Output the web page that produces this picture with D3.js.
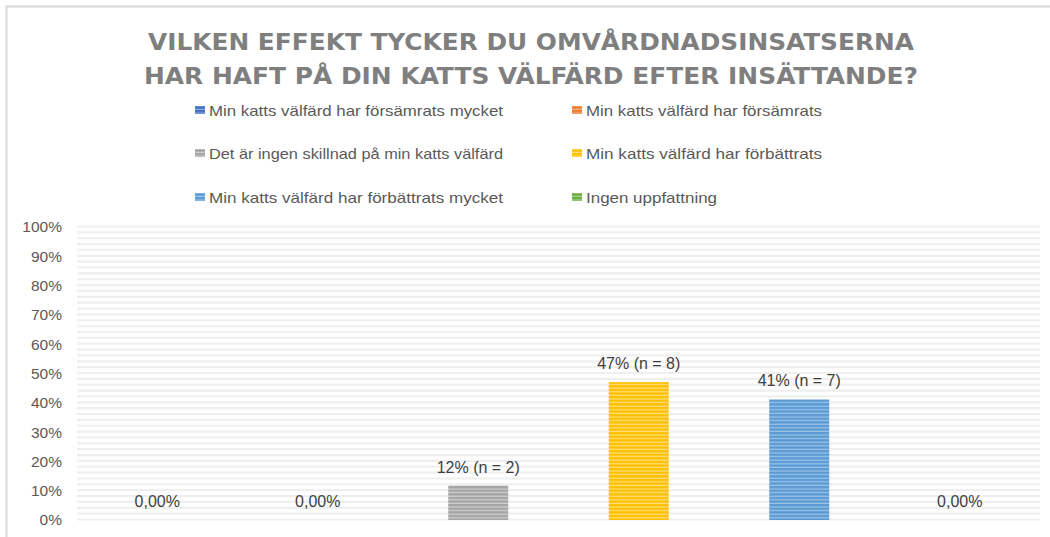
<!DOCTYPE html>
<html><head><meta charset="utf-8">
<script src="https://cdn.jsdelivr.net/npm/d3@7"></script>
<style>
html,body{margin:0;padding:0;background:#fff;}
svg{display:block;}
</style></head>
<body>
<svg id="chart" width="1050" height="537"></svg>
<script>
// ---- data ----
const titleLines = ["VILKEN EFFEKT TYCKER DU OMVÅRDNADSINSATSERNA", "HAR HAFT PÅ DIN KATTS VÄLFÄRD EFTER INSÄTTANDE?"];
const categories = [
  "Min katts välfärd har försämrats mycket",
  "Min katts välfärd har försämrats",
  "Det är ingen skillnad på min katts välfärd",
  "Min katts välfärd har förbättrats",
  "Min katts välfärd har förbättrats mycket",
  "Ingen uppfattning"
];
const values = [0, 0, 11.76, 47.06, 41.18, 0];
const dataLabels = ["0,00%", "0,00%", "12% (n = 2)", "47% (n = 8)", "41% (n = 7)", "0,00%"];
const colors = ["#4472c4", "#ed7d31", "#a5a5a5", "#ffc000", "#5b9bd5", "#70ad47"];
const lightColors = ["#8faadc", "#f4b183", "#d0d0d0", "#ffdf7f", "#9dc3e6", "#a9d18e"];
const yTicks = [0, 10, 20, 30, 40, 50, 60, 70, 80, 90, 100];
const yTickLabels = ["0%", "10%", "20%", "30%", "40%", "50%", "60%", "70%", "80%", "90%", "100%"];
const minorGrid = [0,2,4,6,8,10,12,14,16,18,20,22,24,26,28,30,32,34,36,38,40,42,44,46,48,50,52,54,56,58,60,62,64,66,68,70,72,74,76,78,80,82,84,86,88,90,92,94,96,98,100];

const svg = d3.select("#chart");
const font = "'Liberation Sans', Arial, sans-serif";

// border
svg.append("path").attr("d", "M6.5,537 L6.5,6.5 L1050,6.5")
  .attr("fill", "none").attr("stroke", "#d9d9d9").attr("stroke-width", 2);

// patterns
const defs = svg.append("defs");
colors.forEach((c, i) => {
  const p = defs.append("pattern").attr("id", "pat" + i)
    .attr("patternUnits", "userSpaceOnUse").attr("width", 8).attr("height", 3.6);
  p.append("rect").attr("width", 8).attr("height", 3.6).attr("fill", c);
  p.append("rect").attr("y", 2.4).attr("width", 8).attr("height", 1.2).attr("fill", lightColors[i]);
});

// title
const titleW = [766, 774];
titleLines.forEach((t, i) => {
  svg.append("text").attr("x", 531).attr("y", 50 + i * 34)
    .attr("text-anchor", "middle")
    .attr("font-family", "'DejaVu Sans Condensed', 'DejaVu Sans', sans-serif")
    .attr("font-weight", "bold").attr("font-size", 23)
    .attr("fill", "#7f7f7f")
    .attr("textLength", titleW[i]).attr("lengthAdjust", "spacingAndGlyphs")
    .text(t);
});

// legend
const legX = [195, 572], legY = [110, 153, 197];
const legW = [294, 236, 294, 236, 294, 131];
categories.forEach((c, i) => {
  const col = i % 2, row = Math.floor(i / 2);
  const g = svg.append("g").attr("transform", `translate(${legX[col]},${legY[row]})`);
  g.append("rect").attr("x", 0).attr("y", -4).attr("width", 10).attr("height", 8)
    .attr("fill", `url(#pat${i})`);
  g.append("text").attr("x", 14).attr("y", 5.5)
    .attr("font-family", font).attr("font-size", 15).attr("fill", "#595959")
    .attr("textLength", legW[i]).attr("lengthAdjust", "spacingAndGlyphs")
    .text(c);
});

// scales
const plot = {left: 77, right: 1040, top: 227, bottom: 520};
const x = d3.scaleBand().domain(categories).range([plot.left, plot.right])
  .paddingInner(0.626).paddingOuter(0.313);
const y = d3.scaleLinear().domain([0, 100]).range([plot.bottom, plot.top]);

// gridlines (pattern-like stripes)
svg.append("g").selectAll("line").data(minorGrid).join("line")
  .attr("x1", plot.left).attr("x2", plot.right)
  .attr("y1", d => y(d) - 0.5).attr("y2", d => y(d) - 0.5)
  .attr("stroke", "#efefef").attr("stroke-width", 2.2);

// y axis
const yAxis = d3.axisLeft(y).tickValues(yTicks)
  .tickFormat((d, i) => yTickLabels[i]).tickSize(0).tickPadding(0);
const ya = svg.append("g").attr("transform", "translate(62,0)").call(yAxis);
ya.select(".domain").remove();
ya.selectAll("text").attr("font-family", font).attr("font-size", 15.5).attr("fill", "#595959");

// bars
svg.append("g").selectAll("rect").data(values).join("rect")
  .attr("x", (d, i) => x(categories[i]))
  .attr("y", d => y(d))
  .attr("width", x.bandwidth())
  .attr("height", d => y(0) - y(d))
  .attr("fill", (d, i) => `url(#pat${i})`);

// data labels
svg.append("g").selectAll("text").data(values).join("text")
  .attr("x", (d, i) => x(categories[i]) + x.bandwidth() / 2)
  .attr("y", d => y(d) - 13)
  .attr("text-anchor", "middle")
  .attr("font-family", font).attr("font-size", 16).attr("fill", "#404040")
  .text((d, i) => dataLabels[i]);
</script>
</body></html>
